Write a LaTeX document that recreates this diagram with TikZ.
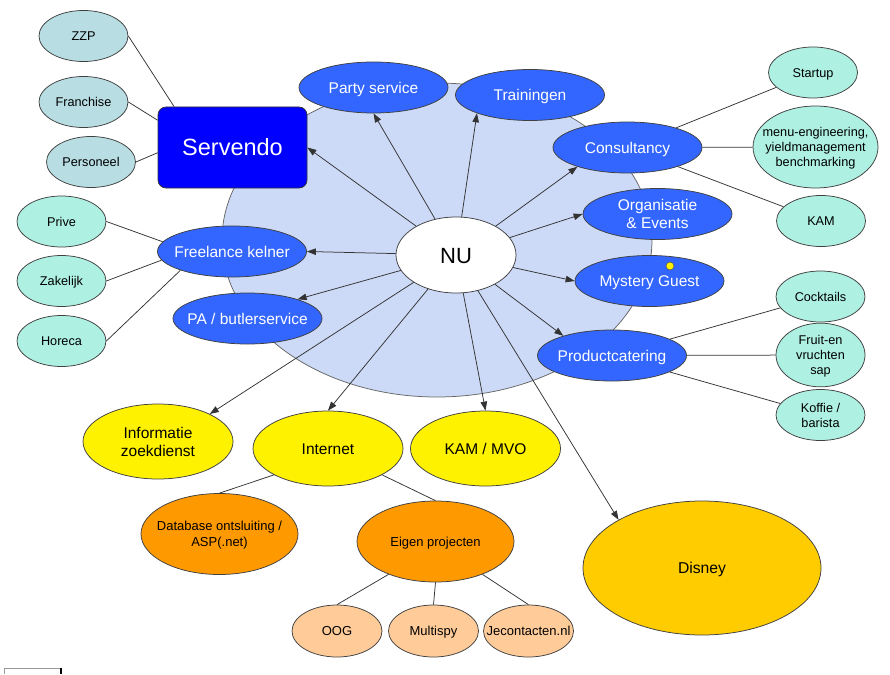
\documentclass[tikz,border=0pt]{standalone}
\usepackage{fontspec}
\setmainfont{Liberation Sans}
\usetikzlibrary{shapes.geometric,arrows.meta}
\definecolor{bgblue}{RGB}{204,218,247}
\definecolor{svcblue}{RGB}{51,102,255}
\definecolor{servblue}{RGB}{0,0,255}
\definecolor{greyteal}{RGB}{184,222,228}
\definecolor{leafaqua}{RGB}{174,240,226}
\definecolor{orng}{RGB}{255,153,0}
\definecolor{peach}{RGB}{255,204,153}
\definecolor{gold}{RGB}{255,204,0}
\newcommand{\ltxt}[1]{\makebox[0pt]{\raisebox{-0.13em}[\height][\depth]{\begin{tabular}{@{}c@{}}#1\end{tabular}}}}
\begin{document}
\begin{tikzpicture}[x=1pt,y=-1pt,
	bub/.style={ellipse,draw=black!75,line width=0.75pt,inner sep=0pt},
	hub/.style={bub,fill=white,minimum width=120pt,minimum height=76pt,font=\fontsize{22}{26}\selectfont},
	service/.style={bub,fill=svcblue,text=white,minimum width=149pt,minimum height=51pt,font=\fontsize{15.5}{18}\selectfont},
	servendo/.style={rectangle,rounded corners=8pt,draw=black!80,line width=0.75pt,fill=servblue,text=white,minimum width=149pt,minimum height=81pt,font=\fontsize{23.5}{28}\selectfont},
	leafgrey/.style={bub,fill=greyteal,minimum width=89pt,minimum height=51pt,font=\fontsize{12.7}{15}\selectfont},
	leaf/.style={bub,fill=leafaqua,minimum width=89pt,minimum height=51pt,font=\fontsize{12.7}{15}\selectfont},
	topic/.style={bub,fill=yellow,minimum width=150pt,minimum height=75pt,font=\fontsize{15.5}{18}\selectfont},
	project/.style={bub,fill=orng,minimum width=157pt,minimum height=81pt,font=\fontsize{13}{16}\selectfont},
	projleaf/.style={bub,fill=peach,minimum width=90pt,minimum height=52pt,font=\fontsize{13}{16}\selectfont},
	link/.style={draw=black!80,line width=0.75pt},
	arr/.style={link,-{Triangle[length=9pt,width=6.5pt]}}]
	\useasboundingbox (0,0) rectangle (890,674);
	\draw[fill=bgblue,draw=black!60,line width=0.75pt] (437,240) ellipse[x radius=215pt,y radius=157pt];
	\node[hub] (nu) at (456,255) {\ltxt{NU}};
	\node[servendo] (serv) at (232.5,147.5) {Servendo};
	\node[service] (party) at (373.5,87.5) {\ltxt{Party service}};
	\node[service] (train) at (530,95) {\ltxt{Trainingen}};
	\node[service] (cons) at (627.5,147.5) {\ltxt{Consultancy}};
	\node[service] (org) at (657.5,214) {\ltxt{Organisatie\\\& Events}};
	\node[service] (myst) at (649.5,281) {\ltxt{Mystery Guest}};
	\node[service] (prod) at (612,355.5) {\ltxt{Productcatering}};
	\node[service] (free) at (232,251.5) {\ltxt{Freelance kelner}};
	\node[service] (pa) at (247.5,318.5) {\ltxt{PA / butlerservice}};
	\node[leafgrey] (zzp) at (83.5,36) {\ltxt{ZZP}};
	\node[leafgrey] (fran) at (83.5,102) {\ltxt{Franchise}};
	\node[leafgrey] (pers) at (91,162) {\ltxt{Personeel}};
	\node[leaf] (prive) at (61.5,221.5) {\ltxt{Prive}};
	\node[leaf] (zak) at (61.5,281) {\ltxt{Zakelijk}};
	\node[leaf] (hor) at (61.5,341) {\ltxt{Horeca}};
	\node[leaf] (start) at (813,72.5) {\ltxt{Startup}};
	\node[leaf,minimum width=125pt,minimum height=82pt] (menu) at (815.5,147) {\ltxt{menu-engineering,\\yieldmanagement\\benchmarking}};
	\node[leaf] (kam) at (821,221) {\ltxt{KAM}};
	\node[leaf] (cock) at (820.5,296.5) {\ltxt{Cocktails}};
	\node[leaf] (fruit) at (820.5,355) {\ltxt{Fruit-en\\vruchten\\sap}};
	\node[leaf] (koffie) at (820.5,415) {\ltxt{Koffie /\\barista}};
	\node[topic] (info) at (158,441.5) {\ltxt{Informatie\\zoekdienst}};
	\node[topic] (inet) at (328,448.5) {\ltxt{Internet}};
	\node[topic] (mvo) at (485.5,448.5) {\ltxt{KAM / MVO}};
	\node[project] (db) at (219.5,534) {\ltxt{Database ontsluiting /\\ASP(.net)}};
	\node[project] (eigen) at (435.5,541.5) {\ltxt{Eigen projecten}};
	\node[projleaf] (oog) at (337,631) {\ltxt{OOG}};
	\node[projleaf] (multi) at (433.5,631) {\ltxt{Multispy}};
	\node[projleaf] (jec) at (528.5,631) {\ltxt{Jecontacten.nl}};
	\node[bub,fill=gold,minimum width=238pt,minimum height=134pt,font=\fontsize{15.7}{18}\selectfont] (disney) at (702,568) {\ltxt{Disney}};
	\filldraw[fill=yellow,draw=black!70,line width=0.5pt] (670,266) circle[radius=4pt];
	\foreach \t in {serv.east,party.south,train.199,cons.201,org.west,myst.west,prod.158,free.east,pa.21,info.28,inet.north,mvo.north,disney.150}
		\draw[arr] (nu) -- (\t);
	\foreach \a/\b in {zzp.east/serv.145,fran.east/serv.160,pers.east/serv.184,prive.east/free.172,zak.east/free.187,hor.east/free.200,cons/start,cons/menu,cons/kam,prod/cock,prod/fruit,prod/koffie,inet.206/db.north,inet.334/eigen.north,eigen.215/oog.north,eigen.south/multi.north,eigen.325/jec.north}
		\draw[link] (\a) -- (\b);
	\draw[black!40] (4,674) -- (4,668) -- (61,668);
	\draw[line width=1.5pt] (61,668) -- (61,674);
\end{tikzpicture}
\end{document}
